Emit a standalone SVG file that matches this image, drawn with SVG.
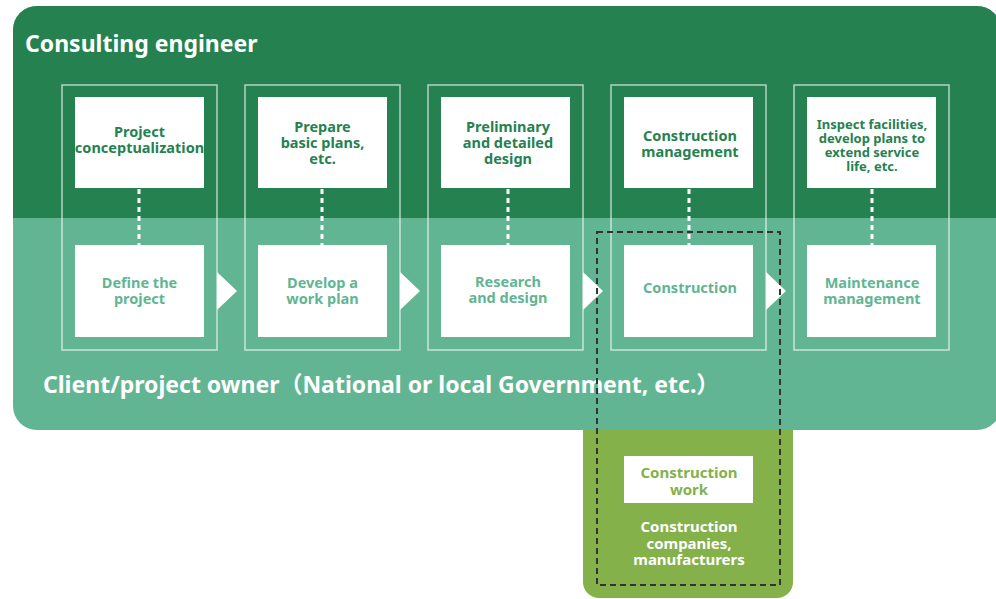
<svg xmlns="http://www.w3.org/2000/svg" width="996" height="599" viewBox="0 0 996 599">
<style>
text{font-family:"Noto Sans","Noto Sans CJK JP",sans-serif;font-weight:700;text-anchor:middle}
.title{fill:#fff;font-size:23px;text-anchor:start}
.top{fill:#268150;font-size:14.5px}
.top5{fill:#268150;font-size:13px}
.bot{fill:#62b592;font-size:14.5px}
.olive{fill:#84b14a;font-size:15px}
.wt{fill:#fff;font-size:15px}
.frame{fill:none;stroke:#fff;stroke-opacity:0.65;stroke-width:1.5}
.box{fill:#fff}
.dot{stroke:#fff;stroke-width:3;stroke-dasharray:5 4}
.arrow{fill:#fff}
</style>
<rect x="583" y="380" width="210" height="218" rx="16" fill="#84b14a"/>
<rect x="13" y="6" width="988" height="424" rx="24" fill="#62b592"/>
<path d="M13 218 V30 A24 24 0 0 1 37 6 H977 A24 24 0 0 1 1001 30 V218 Z" fill="#268150"/>
<text class="title" x="25" y="52">Consulting engineer</text>
<text class="title" x="43" y="393">Client/project owner（National or local Government, etc.）</text>
<g id="connectors">
<line class="dot" x1="139" y1="189" x2="139" y2="245"/>
<line class="dot" x1="322" y1="189" x2="322" y2="245"/>
<line class="dot" x1="508" y1="189" x2="508" y2="245"/>
<line class="dot" x1="689" y1="189" x2="689" y2="245"/>
<line class="dot" x1="872" y1="189" x2="872" y2="245"/>
<polygon class="arrow" points="217,272 237,291 217,310"/>
<polygon class="arrow" points="400,272 420,291 400,310"/>
<polygon class="arrow" points="583,272 603,291 583,310"/>
<polygon class="arrow" points="766,272 786,291 766,310"/>
</g>
<g id="col1">
<rect class="frame" x="62" y="85" width="155" height="265"/>
<rect class="box" x="75" y="97" width="129" height="91"/>
<text class="top" x="139.5" y="137">Project<tspan x="139.5" dy="16">conceptualization</tspan></text>
<rect class="box" x="75" y="245" width="129" height="92"/>
<text class="bot" x="139.5" y="288">Define the<tspan x="139.5" dy="16">project</tspan></text>
</g>
<g id="col2">
<rect class="frame" x="245" y="85" width="155" height="265"/>
<rect class="box" x="258" y="97" width="129" height="91"/>
<text class="top" x="322.5" y="132">Prepare<tspan x="322.5" dy="16">basic plans,</tspan><tspan x="322.5" dy="16">etc.</tspan></text>
<rect class="box" x="258" y="245" width="129" height="92"/>
<text class="bot" x="322.5" y="288">Develop a<tspan x="322.5" dy="16">work plan</tspan></text>
</g>
<g id="col3">
<rect class="frame" x="428" y="85" width="155" height="265"/>
<rect class="box" x="441" y="97" width="129" height="91"/>
<text class="top" x="508" y="132">Preliminary<tspan x="508" dy="16">and detailed</tspan><tspan x="508" dy="16">design</tspan></text>
<rect class="box" x="441" y="245" width="129" height="92"/>
<text class="bot" x="508" y="287">Research<tspan x="508" dy="16">and design</tspan></text>
</g>
<g id="col4">
<rect class="frame" x="611" y="85" width="155" height="265"/>
<rect class="box" x="624" y="97" width="129" height="91"/>
<text class="top" x="690" y="141">Construction<tspan x="690" dy="16">management</tspan></text>
<rect class="box" x="624" y="245" width="129" height="92"/>
<text class="bot" x="690" y="293">Construction</text>
</g>
<g id="col5">
<rect class="frame" x="794" y="85" width="155" height="265"/>
<rect class="box" x="807" y="97" width="129" height="91"/>
<text class="top5" x="872" y="129">Inspect facilities,<tspan x="872" dy="14">develop plans to</tspan><tspan x="872" dy="14">extend service</tspan><tspan x="872" dy="14">life, etc.</tspan></text>
<rect class="box" x="807" y="245" width="129" height="92"/>
<text class="bot" x="872" y="288">Maintenance<tspan x="872" dy="16">management</tspan></text>
</g>
<g id="contractor">
<rect class="box" x="624" y="456" width="129" height="47"/>
<text class="olive" x="689" y="478">Construction<tspan x="689" dy="17">work</tspan></text>
<text class="wt" x="689" y="532">Construction<tspan x="689" dy="16.5">companies,</tspan><tspan x="689" dy="16.5">manufacturers</tspan></text>
</g>
<rect id="dashed-scope" x="597" y="232" width="183" height="353" fill="none" stroke="#333" stroke-width="2" stroke-dasharray="6 4"/>
</svg>
